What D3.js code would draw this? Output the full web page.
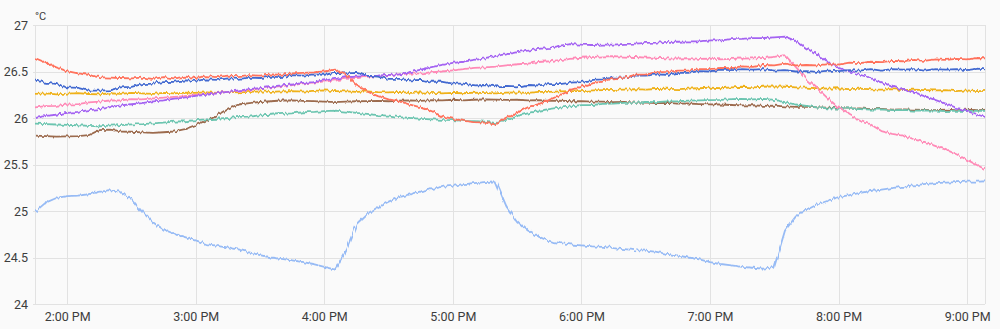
<!DOCTYPE html>
<html>
<head>
<meta charset="utf-8">
<script src="https://cdn.jsdelivr.net/npm/d3@7"></script>
<style>
  html, body { margin: 0; padding: 0; background: #fafafa; }
  svg { display: block; font-family: Roboto, "Noto Sans", sans-serif; }
</style>
</head>
<body>
<svg id="chart" width="1000" height="329"></svg>
<script>
// Temperature readings, one sample every 5 minutes from 1:45 PM.
const sampleStart = new Date(2024, 0, 15, 13, 45);
const sampleStepMinutes = 5;
const viewEnd = new Date(2024, 0, 15, 21, 8, 20);

const yTicks = [24, 24.5, 25, 25.5, 26, 26.5, 27];
const yTickLabels = ["24", "24.5", "25", "25.5", "26", "26.5", "27"];
const xTickHours = [14, 15, 16, 17, 18, 19, 20, 21];
const unitLabel = "°C";

const seriesNames = ["red", "blue", "yellow", "pink", "purple", "teal", "brown", "lightblue"];
const seriesColors = ["#ff725c", "#4269d0", "#efb118", "#ff8ab7", "#a463f2", "#6cc5b0", "#9c6b4e", "#97bbf5"];

const red = [
  26.645,26.595,26.545,26.505,26.48,26.465,26.44,26.435,26.43,26.425,
  26.435,26.42,26.44,26.425,26.445,26.43,26.45,26.44,26.455,26.45,
  26.46,26.455,26.47,26.465,26.48,26.485,26.49,26.5,26.52,26.47,
  26.35,26.285,26.235,26.2,26.18,26.145,26.115,26.075,26.015,25.99,
  25.97,25.955,25.95,25.93,25.995,26.055,26.115,26.15,26.195,26.245,
  26.3,26.335,26.375,26.39,26.425,26.435,26.465,26.47,26.49,26.495,
  26.51,26.51,26.525,26.525,26.54,26.535,26.555,26.55,26.57,26.565,
  26.585,26.565,26.57,26.565,26.58,26.575,26.595,26.59,26.605,26.6,
  26.615,26.61,26.625,26.615,26.63,26.625,26.635,26.63,26.645,26.64
];
const blue = [
  26.405,26.38,26.365,26.33,26.325,26.295,26.295,26.3,26.33,26.335,
  26.365,26.37,26.385,26.39,26.405,26.4,26.415,26.41,26.425,26.42,
  26.435,26.43,26.445,26.44,26.46,26.455,26.47,26.465,26.485,26.48,
  26.485,26.455,26.445,26.42,26.42,26.405,26.41,26.39,26.39,26.37,
  26.37,26.35,26.355,26.34,26.345,26.34,26.355,26.35,26.365,26.365,
  26.38,26.385,26.41,26.415,26.435,26.435,26.455,26.455,26.47,26.465,
  26.485,26.485,26.505,26.5,26.52,26.515,26.525,26.52,26.525,26.51,
  26.515,26.5,26.505,26.495,26.51,26.505,26.515,26.51,26.525,26.51,
  26.525,26.52,26.525,26.51,26.525,26.52,26.525,26.515,26.53,26.52
];
const yellow = [
  26.26,26.265,26.255,26.262,26.268,26.258,26.255,26.266,26.26,26.27,
  26.264,26.26,26.27,26.265,26.272,26.27,26.276,26.27,26.282,26.276,
  26.28,26.286,26.28,26.286,26.29,26.284,26.292,26.296,26.29,26.286,
  26.28,26.286,26.278,26.275,26.282,26.27,26.276,26.27,26.264,26.27,
  26.266,26.272,26.268,26.265,26.272,26.276,26.27,26.28,26.28,26.286,
  26.29,26.29,26.296,26.3,26.302,26.306,26.31,26.305,26.312,26.316,
  26.31,26.316,26.32,26.326,26.32,26.33,26.336,26.33,26.336,26.34,
  26.336,26.33,26.326,26.32,26.316,26.32,26.31,26.315,26.308,26.306,
  26.31,26.3,26.305,26.3,26.296,26.3,26.29,26.296,26.29,26.292
];
const pink = [
  26.115,26.128,26.13,26.145,26.15,26.168,26.175,26.188,26.19,26.204,
  26.2,26.212,26.22,26.228,26.235,26.248,26.255,26.268,26.28,26.292,
  26.3,26.318,26.33,26.342,26.355,26.372,26.38,26.392,26.405,26.422,
  26.43,26.442,26.45,26.462,26.47,26.478,26.48,26.492,26.5,26.512,
  26.525,26.538,26.545,26.552,26.565,26.578,26.585,26.602,26.61,26.622,
  26.635,26.648,26.655,26.662,26.665,26.66,26.656,26.65,26.648,26.642,
  26.64,26.644,26.635,26.638,26.63,26.636,26.64,26.642,26.645,26.658,
  26.675,26.55,26.42,26.32,26.21,26.11,26.03,25.97,25.93,25.86,
  25.83,25.81,25.77,25.74,25.7,25.66,25.61,25.55,25.49,25.43
];
const purple = [
  26.0,26.022,26.035,26.055,26.065,26.084,26.095,26.114,26.135,26.148,
  26.16,26.178,26.19,26.208,26.22,26.238,26.25,26.268,26.28,26.298,
  26.31,26.322,26.335,26.35,26.36,26.378,26.385,26.404,26.42,26.438,
  26.445,26.452,26.455,26.464,26.47,26.492,26.52,26.548,26.57,26.592,
  26.605,26.624,26.64,26.668,26.685,26.708,26.725,26.744,26.755,26.778,
  26.795,26.788,26.785,26.79,26.79,26.798,26.8,26.808,26.81,26.818,
  26.82,26.824,26.825,26.834,26.835,26.848,26.85,26.858,26.86,26.868,
  26.875,26.83,26.75,26.68,26.6,26.54,26.5,26.465,26.43,26.385,
  26.34,26.305,26.275,26.235,26.195,26.155,26.11,26.075,26.035,26.0
];
const teal = [
  25.94,25.935,25.93,25.925,25.922,25.915,25.91,25.917,25.924,25.932,
  25.935,25.942,25.95,25.962,25.965,25.978,25.985,25.992,26.0,26.012,
  26.015,26.028,26.035,26.044,26.05,26.062,26.065,26.074,26.08,26.068,
  26.055,26.045,26.032,26.025,26.01,26.002,25.99,25.986,25.98,25.977,
  25.97,25.967,25.96,25.945,25.97,26.02,26.05,26.078,26.095,26.112,
  26.125,26.138,26.14,26.152,26.155,26.162,26.165,26.172,26.17,26.178,
  26.18,26.187,26.19,26.192,26.195,26.202,26.205,26.2,26.206,26.195,
  26.17,26.145,26.13,26.115,26.105,26.1,26.102,26.095,26.09,26.092,
  26.085,26.088,26.08,26.083,26.08,26.075,26.08,26.075,26.08,26.075
];
const brown = [
  25.81,25.805,25.8,25.803,25.805,25.815,25.87,25.875,25.855,25.852,
  25.845,25.84,25.847,25.855,25.88,25.925,25.975,26.03,26.1,26.145,
  26.16,26.172,26.18,26.188,26.19,26.185,26.182,26.175,26.17,26.176,
  26.18,26.182,26.185,26.18,26.186,26.19,26.185,26.192,26.19,26.196,
  26.19,26.196,26.2,26.198,26.195,26.196,26.19,26.192,26.185,26.186,
  26.18,26.182,26.175,26.176,26.17,26.172,26.165,26.166,26.16,26.162,
  26.155,26.156,26.15,26.146,26.145,26.14,26.135,26.137,26.13,26.132,
  26.125,26.12,26.122,26.115,26.11,26.105,26.1,26.102,26.095,26.097,
  26.09,26.092,26.09,26.088,26.085,26.09,26.085,26.09,26.085,26.09
];
const lightblue = [
  24.99,25.09,25.14,25.16,25.165,25.18,25.205,25.225,25.205,25.13,
  24.99,24.88,24.8,24.755,24.72,24.685,24.645,24.625,24.61,24.585,
  24.555,24.525,24.5,24.485,24.47,24.45,24.43,24.4,24.37,24.57,
  24.86,24.97,25.04,25.1,25.15,25.18,25.21,25.235,25.26,25.27,
  25.29,25.3,25.31,25.32,25.05,24.89,24.79,24.725,24.675,24.655,
  24.64,24.63,24.62,24.615,24.6,24.59,24.58,24.575,24.56,24.54,
  24.52,24.5,24.48,24.45,24.43,24.415,24.4,24.39,24.38,24.4,
  24.79,24.94,25.01,25.07,25.11,25.15,25.17,25.195,25.215,25.23,
  25.245,25.26,25.275,25.29,25.3,25.305,25.31,25.315,25.315,25.32
];

const seriesValues = [red, blue, yellow, pink, purple, teal, brown, lightblue];
// drawing order (later paths end up on top)
const drawOrder = ["lightblue", "brown", "teal", "yellow", "pink", "purple", "blue", "red"];

const svg = d3.select("#chart");
const margin = { left: 35, right: 15, top: 25, bottom: 25 };
const W = 1000, H = 329;

const x = d3.scaleTime()
  .domain([sampleStart, viewEnd])
  .range([margin.left, W - margin.right]);
const y = d3.scaleLinear()
  .domain([24, 27])
  .range([H - margin.bottom, margin.top]);

const gridColor = "#e2e2e2";
const textColor = "#3d3d3d";

// horizontal grid + y labels
const yAxis = d3.axisLeft(y)
  .tickValues(yTicks)
  .tickFormat((d, i) => yTickLabels[i])
  .tickSize(-(W - margin.left - margin.right + 2))
  .tickPadding(5);
const gy = svg.append("g")
  .attr("transform", `translate(${margin.left - 2},0)`)
  .call(yAxis);
gy.select(".domain").remove();
gy.selectAll(".tick line").attr("stroke", gridColor).attr("shape-rendering", "crispEdges");
gy.selectAll(".tick text")
  .attr("fill", textColor)
  .attr("font-size", 12.5)
  .attr("font-family", "Roboto, sans-serif");

// vertical grid + x labels
const xTickDates = xTickHours.map(h => new Date(2024, 0, 15, h, 0));
const xAxis = d3.axisBottom(x)
  .tickValues(xTickDates)
  .tickFormat(d3.timeFormat("%-I:%M %p"))
  .tickSize(-(y(24) - y(27)))
  .tickPadding(8);
const gx = svg.append("g")
  .attr("transform", `translate(0,${y(24)})`)
  .call(xAxis);
gx.select(".domain").remove();
gx.selectAll(".tick line").attr("stroke", gridColor).attr("shape-rendering", "crispEdges");
gx.selectAll(".tick text")
  .attr("fill", textColor)
  .attr("font-size", 12.5)
  .attr("font-family", "Roboto, sans-serif");

// plot frame: left and right edges
[x.range()[0], x.range()[1]].forEach(px => {
  svg.append("line")
    .attr("x1", px).attr("x2", px)
    .attr("y1", y(27)).attr("y2", y(24))
    .attr("stroke", gridColor)
    .attr("shape-rendering", "crispEdges");
});

// unit label
svg.append("text")
  .attr("x", margin.left)
  .attr("y", 20)
  .attr("fill", textColor)
  .attr("font-size", 11)
  .attr("font-family", "Roboto, sans-serif")
  .text(unitLabel);

const defs = svg.append("defs");

// clip region for the series
defs.append("clipPath").attr("id", "plot-clip")
  .append("rect")
  .attr("x", x.range()[0]).attr("y", 0)
  .attr("width", x.range()[1] - x.range()[0])
  .attr("height", H);

// sensor jitter look: a fine vertical wobble applied to the traces
const jitter = defs.append("filter")
  .attr("id", "sensor-jitter")
  .attr("x", 0).attr("y", 0).attr("width", W).attr("height", H)
  .attr("filterUnits", "userSpaceOnUse")
  .attr("color-interpolation-filters", "sRGB");
jitter.append("feTurbulence")
  .attr("type", "fractalNoise")
  .attr("baseFrequency", "0.45 0.03")
  .attr("numOctaves", 1)
  .attr("seed", 3)
  .attr("result", "noise");
jitter.append("feDisplacementMap")
  .attr("in", "SourceGraphic")
  .attr("in2", "noise")
  .attr("scale", 5)
  .attr("xChannelSelector", "R")
  .attr("yChannelSelector", "G");

const timeAt = i => new Date(sampleStart.getTime() + i * sampleStepMinutes * 60000);
const line = d3.line()
  .x((d, i) => x(timeAt(i)))
  .y(d => y(d));

const plot = svg.append("g").attr("clip-path", "url(#plot-clip)")
  .append("g").attr("filter", "url(#sensor-jitter)");
drawOrder.forEach(name => {
  const k = seriesNames.indexOf(name);
  plot.append("path")
    .datum(seriesValues[k])
    .attr("fill", "none")
    .attr("stroke", seriesColors[k])
    .attr("stroke-width", 1.8)
    .attr("stroke-linejoin", "round")
    .attr("d", line);
});
</script>
</body>
</html>
